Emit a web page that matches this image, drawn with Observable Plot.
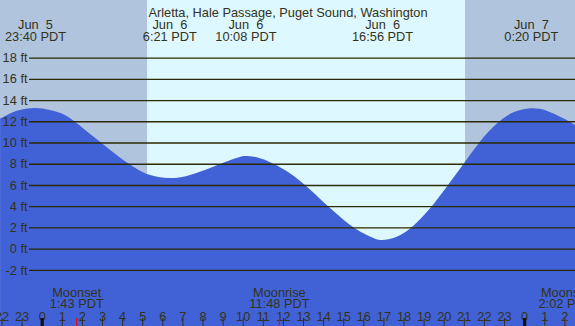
<!DOCTYPE html>
<html>
<head>
<meta charset="utf-8">
<script src="https://cdn.jsdelivr.net/npm/d3@7"></script>
<script src="https://cdn.jsdelivr.net/npm/@observablehq/plot@0.6"></script>
<style>
  html, body { margin: 0; padding: 0; background: #fff; }
  svg text { white-space: pre; }
</style>
</head>
<body>
<div id="chart"></div>
<script>
// Hours relative to Jun 6 00:00 PDT
const tideHours = [-2.07, -1.5, -1.0, -0.33, 0.41, 1.24, 2.07, 2.9, 3.73, 4.56, 5.39, 6.35, 7.04, 7.87, 9.03, 9.88, 10.13, 10.70, 11.52, 12.35, 13.18, 14.01, 14.84, 15.67, 16.5, 16.93, 17.66, 18.49, 19.32, 20.15, 20.97, 21.8, 22.64, 23.46, 24.33, 25.12, 25.95, 26.53];
const tideFeet  = [12.25, 12.8, 13.1, 13.25, 13.06, 12.5, 11.33, 10.07, 8.82, 7.72, 6.94, 6.65, 6.78, 7.25, 8.1, 8.66, 8.73, 8.6, 8.0, 7.1, 5.85, 4.4, 3.0, 1.8, 1.0, 0.82, 1.13, 2.17, 3.8, 5.84, 7.95, 10.08, 11.8, 12.84, 13.22, 13.0, 12.28, 11.65];

const extremeHours = [-0.333, 6.35, 10.133, 16.933, 24.333];
const extremeDates = ["Jun  5", "Jun  6", "Jun  6", "Jun  6", "Jun  7"];
const extremeTimes = ["23:40 PDT", "6:21 PDT", "10:08 PDT", "16:56 PDT", "0:20 PDT"];

const moonHours = [1.717, 11.8, 26.033];
const moonNames = ["Moonset", "Moonrise", "Moonset"];
const moonTimes = ["1:43 PDT", "11:48 PDT", "2:02 PDT"];

const sunrise = 5.24, sunset = 21.06;
const hourTicks = d3.range(-2, 27);
const feetTicks = [-2, 0, 2, 4, 6, 8, 10, 12, 14, 16, 18];
const title = "Arletta, Hale Passage, Puget Sound, Washington";

const xDomain = [-2.075, 26.53];
const yDomain = [-7.28, 23.42];

const tide = tideHours.map((h, i) => ({h, ft: tideFeet[i]}));
const nights = [{a: xDomain[0], b: sunrise}, {a: sunset, b: xDomain[1]}];
const extremes = extremeHours.map((h, i) => ({h, date: extremeDates[i], time: extremeTimes[i]}));
const moons = moonHours.map((h, i) => ({h, name: moonNames[i], time: moonTimes[i]}));

const font = "Liberation Sans";
const ink = "#33331a";
const fs = 12.8;

const chart = Plot.plot({
  width: 575,
  height: 326,
  margin: 0,
  x: {domain: xDomain},
  y: {domain: yDomain},
  style: {background: "#def8ff", fontFamily: font, fontSize: fs + "px", color: ink},
  marks: [
    Plot.rect(nights, {x1: "a", x2: "b", y1: yDomain[0], y2: yDomain[1], fill: "#b0c4de"}),
    Plot.areaY(tide, {x: "h", y1: yDomain[0], y2: "ft", fill: "#4161d7", curve: "natural"}),
    Plot.ruleY(feetTicks, {y: d => d, stroke: "#2c2a00", strokeWidth: 1.3, insetLeft: 29}),
    Plot.text(feetTicks, {frameAnchor: "left", y: d => d, text: d => `${d} ft`, textAnchor: "end", dx: 27, fill: ink, fontSize: fs}),
    Plot.text([title], {frameAnchor: "top", dy: 7.5, text: d => d, fill: ink, fontSize: fs}),
    Plot.text(extremes, {x: "h", frameAnchor: "top", dy: 19.8, text: "date", fill: ink, fontSize: fs}),
    Plot.text(extremes, {x: "h", frameAnchor: "top", dy: 31.6, text: "time", fill: ink, fontSize: fs}),
    Plot.text(moons, {x: "h", frameAnchor: "top", dy: 287.3, text: "name", fill: ink, fontSize: fs}),
    Plot.text(moons, {x: "h", frameAnchor: "top", dy: 298.9, text: "time", fill: ink, fontSize: fs}),
    Plot.text(hourTicks, {x: d => d, frameAnchor: "top", dy: 311.6, text: d => String(((d % 24) + 24) % 24), fill: ink, fontSize: fs}),
    Plot.ruleX(hourTicks.filter(d => d % 24 !== 0), {x: d => d, insetTop: 318, stroke: ink, strokeWidth: 1}),
    Plot.ruleX(hourTicks.filter(d => d % 24 === 0), {x: d => d, insetTop: 318, stroke: "#111", strokeWidth: 3.2}),
    Plot.ruleX(moons, {x: "h", insetTop: 318, stroke: "#ff0000", strokeWidth: 1.2})
  ]
});
document.getElementById("chart").appendChild(chart);
</script>
</body>
</html>
